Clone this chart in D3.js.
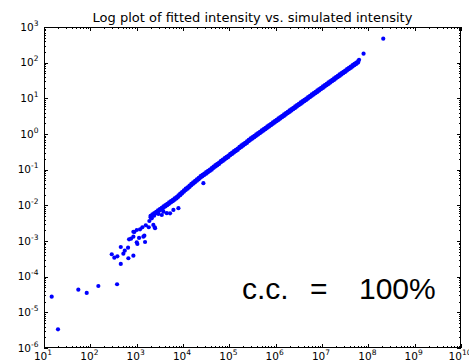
<!DOCTYPE html>
<html><head><meta charset="utf-8">
<script src="https://cdn.jsdelivr.net/npm/d3@7"></script>
<style>body{margin:0;background:#fff}svg{display:block}</style>
</head><body>
<script>
// exponents (log10) of simulated (x) and fitted (y) intensities
// dense band: each simulated value has an upper and a lower fitted edge of the thick point cloud
const bandSimExp = [3.30,3.34,3.38,3.42,3.46,3.50,3.54,3.58,3.62,3.66,3.70,3.74,3.78,3.82,3.86,3.90,3.94,3.98,4.02,4.06,4.10,4.14,4.18,4.22,4.26,4.30,4.34,4.38,4.42,4.46,4.50,4.54,4.58,4.62,4.66,4.70,4.74,4.78,4.82,4.86,4.90,4.94,4.98,5.02,5.06,5.10,5.14,5.18,5.22,5.26,5.30,5.34,5.38,5.42,5.46,5.50,5.54,5.58,5.62,5.66,5.70,5.74,5.78,5.82,5.86,5.90,5.94,5.98,6.02,6.06,6.10,6.14,6.18,6.22,6.26,6.30,6.34,6.38,6.42,6.46,6.50,6.54,6.58,6.62,6.66,6.70,6.74,6.78,6.82,6.86,6.90,6.94,6.98,7.02,7.06,7.10,7.14,7.18,7.22,7.26,7.30,7.34,7.38,7.42,7.46,7.50,7.54,7.58,7.62,7.66,7.70,7.74,7.78];
const bandUpperFitExp = [-2.292,-2.254,-2.217,-2.180,-2.142,-2.105,-2.068,-2.030,-1.993,-1.956,-1.918,-1.881,-1.843,-1.806,-1.769,-1.721,-1.674,-1.627,-1.579,-1.532,-1.495,-1.447,-1.400,-1.353,-1.315,-1.268,-1.230,-1.183,-1.146,-1.108,-1.071,-1.034,-0.996,-0.959,-0.912,-0.874,-0.837,-0.799,-0.752,-0.715,-0.677,-0.640,-0.603,-0.555,-0.518,-0.481,-0.443,-0.406,-0.359,-0.321,-0.284,-0.246,-0.209,-0.162,-0.124,-0.087,-0.050,-0.012,0.025,0.062,0.100,0.137,0.175,0.212,0.249,0.287,0.324,0.361,0.399,0.436,0.473,0.511,0.548,0.585,0.623,0.660,0.698,0.735,0.772,0.810,0.847,0.884,0.922,0.959,0.996,1.034,1.071,1.109,1.146,1.183,1.221,1.258,1.295,1.333,1.370,1.407,1.445,1.482,1.519,1.557,1.594,1.632,1.669,1.706,1.744,1.781,1.818,1.856,1.893,1.930,1.968,2.005,2.043];
const bandLowerFitExp = [-2.332,-2.294,-2.257,-2.220,-2.182,-2.145,-2.108,-2.070,-2.033,-1.996,-1.958,-1.921,-1.883,-1.846,-1.809,-1.761,-1.714,-1.667,-1.619,-1.572,-1.535,-1.487,-1.440,-1.393,-1.355,-1.308,-1.270,-1.223,-1.186,-1.148,-1.111,-1.074,-1.036,-0.999,-0.952,-0.914,-0.877,-0.839,-0.792,-0.755,-0.717,-0.680,-0.643,-0.595,-0.558,-0.521,-0.483,-0.446,-0.399,-0.361,-0.324,-0.286,-0.249,-0.202,-0.164,-0.127,-0.090,-0.052,-0.015,0.022,0.060,0.097,0.135,0.172,0.209,0.247,0.284,0.321,0.359,0.396,0.433,0.471,0.508,0.545,0.583,0.620,0.658,0.695,0.732,0.770,0.807,0.844,0.882,0.919,0.956,0.994,1.031,1.069,1.106,1.143,1.181,1.218,1.255,1.293,1.330,1.367,1.405,1.442,1.479,1.517,1.554,1.592,1.629,1.666,1.704,1.741,1.778,1.816,1.853,1.890,1.928,1.965,2.003];
const scatterSimExp = [1.166,1.302,1.741,1.922,2.173,2.577,2.462,2.518,2.583,2.657,2.657,2.713,2.743,2.814,2.821,2.929,2.836,2.879,2.929,3.002,3.015,3.052,3.166,3.181,2.950,3.002,3.073,3.123,3.197,3.261,3.391,3.274,3.326,3.376,3.469,3.577,3.542,3.650,3.793,3.901,2.929,3.145,3.397,3.360,3.721,4.440,7.800,7.897,8.322];
const scatterFitExp = [-4.561,-5.475,-4.365,-4.457,-4.261,-4.213,-3.372,-3.468,-3.429,-3.644,-3.168,-3.356,-3.272,-3.187,-3.484,-3.412,-2.952,-2.935,-2.879,-3.036,-3.084,-2.915,-2.851,-3.028,-2.747,-2.691,-2.672,-2.615,-2.559,-2.615,-2.615,-2.439,-2.363,-2.290,-2.242,-2.178,-2.271,-2.220,-2.130,-2.080,-2.740,-2.879,-2.643,-2.550,-2.223,-1.380,2.080,2.251,2.672];
const xTickExps = [1,2,3,4,5,6,7,8,9,10];
const yTickExps = [-6,-5,-4,-3,-2,-1,0,1,2,3];
const minorMults = [2,3,4,5,6,7,8,9];
const titleText = "Log plot of fitted intensity vs. simulated intensity";
const ccParts = ["c.c.", "=", "100%"];

const W = 469, H = 363;
const L = 44, R = 461, T = 27, B = 348;
const svg = d3.select("body").append("svg").attr("width", W).attr("height", H);
const x = d3.scaleLog().domain([1e1, 1e10]).range([L, R]);
const y = d3.scaleLog().domain([1e-6, 1e3]).range([B, T]);

// points
const pts = bandSimExp.map((e,i)=>[e, bandUpperFitExp[i]])
  .concat(bandSimExp.map((e,i)=>[e, bandLowerFitExp[i]]))
  .concat(scatterSimExp.map((e,i)=>[e, scatterFitExp[i]]));
svg.append("g").selectAll("circle").data(pts).join("circle")
  .attr("cx", d=>x(Math.pow(10,d[0]))).attr("cy", d=>y(Math.pow(10,d[1])))
  .attr("r", 2.1).attr("fill", "#0000ff");

// ticks
const tg = svg.append("g").attr("stroke", "#000").attr("stroke-width", 1);
const xMajor = xTickExps.map(e=>Math.pow(10,e));
const yMajor = yTickExps.map(e=>Math.pow(10,e));
const xMinor = [], yMinor = [];
xTickExps.slice(0,-1).forEach(e=>minorMults.forEach(m=>xMinor.push(m*Math.pow(10,e))));
yTickExps.slice(0,-1).forEach(e=>minorMults.forEach(m=>yMinor.push(m*Math.pow(10,e))));
function xt(vals, len){
  vals.forEach(v=>{
    const px = Math.round(x(v))+0.5;
    tg.append("line").attr("x1",px).attr("x2",px).attr("y1",B).attr("y2",B-len);
    tg.append("line").attr("x1",px).attr("x2",px).attr("y1",T).attr("y2",T+len);
  });
}
function yt(vals, len){
  vals.forEach(v=>{
    const py = Math.round(y(v))+0.5;
    tg.append("line").attr("y1",py).attr("y2",py).attr("x1",L).attr("x2",L+len);
    tg.append("line").attr("y1",py).attr("y2",py).attr("x1",R).attr("x2",R-len);
  });
}
xt(xMajor, 4); xt(xMinor, 2); yt(yMajor, 4); yt(yMinor, 2);

// frame
svg.append("rect").attr("x", L+0.5).attr("y", T+0.5).attr("width", R-L-1).attr("height", B-T-1)
  .attr("fill","none").attr("stroke","#000").attr("stroke-width",1);

// tick labels
const font = "DejaVu Sans";
const xl = svg.append("g").attr("font-family", font).attr("fill","#000");
xTickExps.forEach(e=>{
  const t = xl.append("text").attr("x", x(Math.pow(10,e))-1).attr("y", 359.5)
    .attr("text-anchor","middle").attr("font-size", 10.5);
  t.append("tspan").text("10");
  t.append("tspan").attr("dy",-5).attr("font-size",7.5).text(String(e));
});
const yl = svg.append("g").attr("font-family", font).attr("fill","#000");
yTickExps.forEach(e=>{
  const t = yl.append("text").attr("x", 38.5).attr("y", y(Math.pow(10,e))+3.5)
    .attr("text-anchor","end").attr("font-size", 10.5);
  t.append("tspan").text("10");
  t.append("tspan").attr("dy",-5).attr("font-size",7.5).text(String(e));
});

// title
svg.append("text").attr("x", (L+R)/2).attr("y", 21.5).attr("text-anchor","middle")
  .attr("font-family", font).attr("font-size", 13).attr("fill","#000").text(titleText);

// correlation annotation
const cc = svg.append("text").attr("y", 298.5)
  .attr("font-family","Liberation Sans, Arial").attr("font-size", 30).attr("fill","#000");
const ccX = [242, 310, 359];
ccParts.forEach((p,i)=>cc.append("tspan").attr("x", ccX[i]).text(p + (i < ccParts.length-1 ? " " : "")));
</script>
</body></html>
